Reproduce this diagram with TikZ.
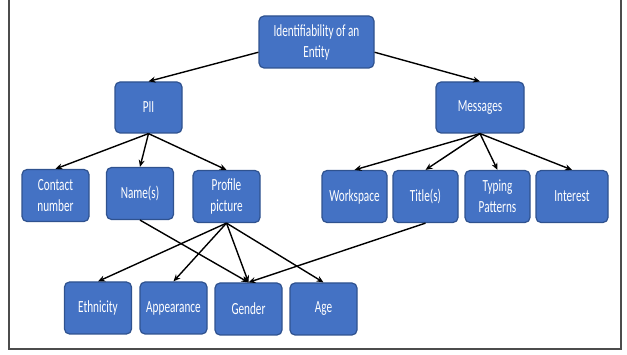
\documentclass[tikz,border=0pt]{standalone}
\usepackage{fontspec}
\newfontfamily\boksfont[FakeStretch=0.66]{Carlito}
\usetikzlibrary{arrows.meta}
\definecolor{boksblaa}{HTML}{4472C4}
\definecolor{kantblaa}{HTML}{2F528F}
\begin{document}
\begin{tikzpicture}[x=1pt,y=-1pt,
    boks/.style={draw=kantblaa, fill=boksblaa, line width=1.2pt, rounded corners=5pt,
        text=white, font=\boksfont\fontsize{17}{21}\selectfont, align=center,
        minimum width=67pt, minimum height=52pt, inner sep=1pt},
    pil/.style={-{Stealth[length=7pt,width=6pt]}, line width=1.4pt}]
    \useasboundingbox (0,0) rectangle (627,355);
    %Ramme
        \draw[gray!60!black, line width=1.2pt] (9,0)--(9,349)--(621,349)--(621,0);

    %Bokse
        \node[boks, minimum width=115pt] (entity) at (316.5,42) {Identifiability of an\\Entity};
        \node[boks, minimum height=51pt] (pii) at (148.5,107.5) {PII};
        \node[boks, minimum width=88pt, minimum height=51pt] (messages) at (480,107.5) {Messages};

        \node[boks] (contact) at (55.5,195.5) {Contact\\number};
        \node[boks] (names) at (140,193.5) {Name(s)};
        \node[boks] (profile) at (226.5,196.5) {Profile\\picture};
        \node[boks, minimum width=65pt] (workspace) at (354.5,196.5) {Workspace};
        \node[boks, minimum width=65pt] (titles) at (425.5,196.5) {Title(s)};
        \node[boks, minimum width=65pt] (typing) at (497.5,196.5) {Typing\\Patterns};
        \node[boks, minimum width=72pt] (interest) at (572,196.5) {Interest};

        \node[boks] (ethnicity) at (98,308) {Ethnicity};
        \node[boks] (appearance) at (173.5,308) {Appearance};
        \node[boks] (gender) at (248.5,309) {Gender};
        \node[boks] (age) at (323.5,309) {Age};

    %Pile
        \draw[pil] (entity.190) -- (pii.north);
        \draw[pil] (entity.350) -- (messages.north);
        \draw[pil] (pii.south) -- (contact.north);
        \draw[pil] (pii.south) -- (names.north);
        \draw[pil] (pii.south) -- (profile.north);
        \draw[pil] (messages.south) -- (workspace.north);
        \draw[pil] (messages.south) -- (titles.north);
        \draw[pil] (messages.south) -- (typing.north);
        \draw[pil] (messages.south) -- (interest.north);
        \draw[pil] (names.south) -- (gender.north);
        \draw[pil] (profile.south) -- (ethnicity.north);
        \draw[pil] (profile.south) -- (appearance.north);
        \draw[pil] (profile.south) -- (gender.north);
        \draw[pil] (profile.south) -- (age.north);
        \draw[pil] (titles.south) -- (gender.north);
\end{tikzpicture}
\end{document}
